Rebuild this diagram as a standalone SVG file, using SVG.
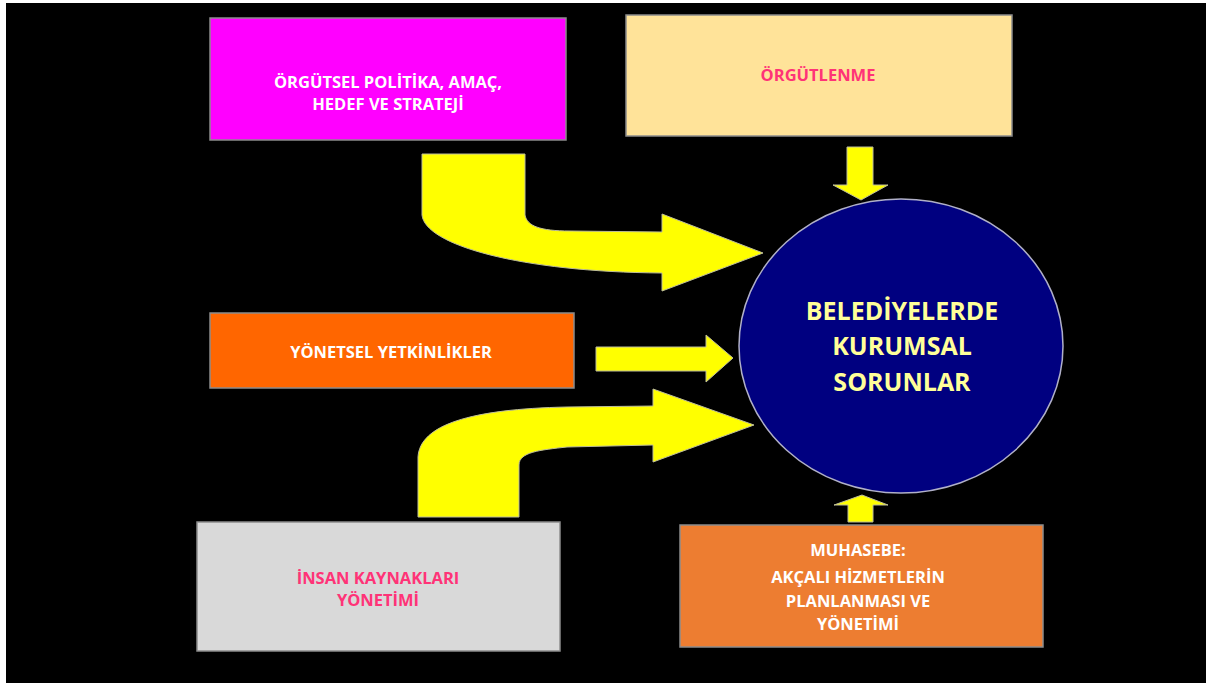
<svg xmlns="http://www.w3.org/2000/svg" width="1206" height="683" viewBox="0 0 1206 683">
<style>
.box{stroke:#8c8c8c;stroke-width:1.5}
.t{font-family:"Open Sans","Liberation Sans",sans-serif;font-weight:bold;font-size:16.5px;text-anchor:middle}
.w{fill:#ffffff}
.p{fill:#ff3377}
.c{font-family:"Open Sans","Liberation Sans",sans-serif;font-weight:bold;font-size:25px;text-anchor:middle;fill:#ffff99}
.arr{fill:#ffff00;stroke:#bdbd9a;stroke-width:1}
</style>
<rect x="0" y="0" width="1206" height="683" fill="#ffffff"/>
<rect x="6" y="3" width="1200" height="680" fill="#000000"/>
<g id="node-politika">
<rect class="box" x="210" y="18" width="356" height="122" fill="#ff00ff"/>
<text class="t w" x="388" y="88">ÖRGÜTSEL POLİTİKA, AMAÇ,</text>
<text class="t w" x="388" y="110">HEDEF VE STRATEJİ</text>
</g>
<g id="node-orgutlenme">
<rect class="box" x="626" y="15" width="386" height="121" fill="#ffe399"/>
<text class="t p" x="818" y="81">ÖRGÜTLENME</text>
</g>
<g id="node-yetkinlik">
<rect class="box" x="210" y="313" width="364" height="75" fill="#ff6600"/>
<text class="t w" x="391" y="358">YÖNETSEL YETKİNLİKLER</text>
</g>
<g id="node-insan">
<rect class="box" x="197" y="522" width="363" height="129" fill="#d9d9d9"/>
<text class="t p" x="378" y="584">İNSAN KAYNAKLARI</text>
<text class="t p" x="378" y="606">YÖNETİMİ</text>
</g>
<g id="node-muhasebe">
<rect class="box" x="680" y="525" width="363" height="122" fill="#ed7d31"/>
<text class="t w" x="858" y="556">MUHASEBE:</text>
<text class="t w" x="858" y="583">AKÇALI HİZMETLERİN</text>
<text class="t w" x="858" y="607">PLANLANMASI VE</text>
<text class="t w" x="858" y="630">YÖNETİMİ</text>
</g>
<g id="node-center">
<ellipse cx="901" cy="346" rx="162" ry="147" fill="#000080" stroke="#b0b0c8" stroke-width="1.5"/>
<text class="c" x="902" y="320">BELEDİYELERDE</text>
<text class="c" x="902" y="355">KURUMSAL</text>
<text class="c" x="902" y="391">SORUNLAR</text>
</g>
<g id="connectors">
<path class="arr" d="M422,154 L525,154 L525,215 C527,226 540,231 570,231 L662,232 L662,214 L763,253 L662,291 L662,273 C520,272 425,245 422,215 Z"/>
<path class="arr" d="M596,347 L706,347 L706,335 L733,358 L706,382 L706,371 L596,371 Z"/>
<path class="arr" d="M418,517 L418,457 C420,425 470,409 567,407 L653,406 L653,389 L754,425 L653,462 L653,445 L567,447 C540,450 519,452 519,465 L519,517 Z"/>
<path class="arr" d="M847,147 L873,147 L873,185 L888,185 L861,200 L833,185 L847,185 Z"/>
<path class="arr" d="M848,522 L848,505 L834,505 L862,495 L888,505 L873,505 L873,522 Z"/>
</g>
</svg>
